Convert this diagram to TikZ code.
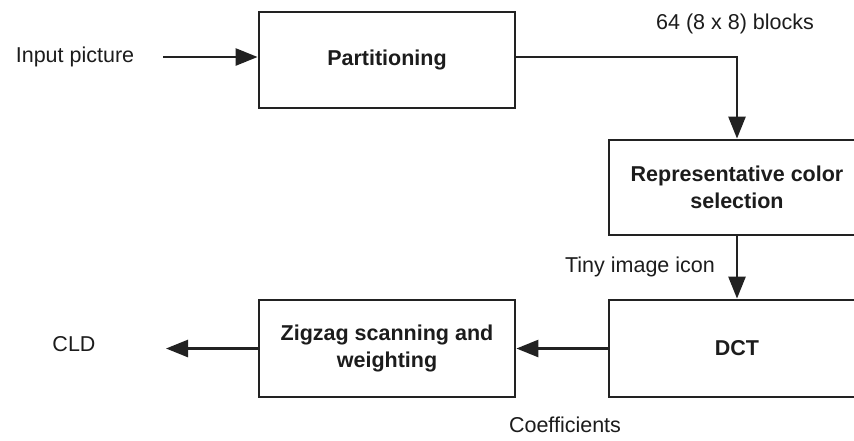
\documentclass[tikz,border=0pt]{standalone}
\usepackage{fontspec}
\setmainfont{Liberation Sans}
\usetikzlibrary{arrows.meta}
\definecolor{ln}{HTML}{222222}
\definecolor{tx}{HTML}{1c1c1c}
\begin{document}
\begin{tikzpicture}[x=1pt,y=-1pt,
  blk/.style={draw=ln,line width=2.8pt,minimum width=256pt,inner sep=0pt,align=center,font=\fontsize{21.5}{27.5}\selectfont\bfseries,text=tx},
  lbl/.style={font=\fontsize{21.5}{27}\selectfont,text=tx,inner sep=0pt},
  conn/.style={draw=ln,line width=2.6pt,-{Triangle[length=22pt,width=17pt]}}]
\useasboundingbox (0,0) rectangle (854,440);
\clip (0,0) rectangle (854,440);
\fill[white] (0,0) rectangle (854,440);
\node[blk,minimum height=96pt] (part) at (387,60) {Partitioning};
\node[blk,minimum height=95pt] (rep) at (737,187.5) {Representative color\\selection};
\node[blk,minimum height=97pt] (dct) at (737,348.5) {DCT};
\node[blk,minimum height=97pt] (zig) at (387,348.5) {Zigzag scanning and\\weighting};
\node[lbl] (inp) at (75,57) {Input picture};
\coordinate (inpend) at (163,57);
\node[lbl] (blocks) at (735,24) {64 (8 x 8) blocks};
\node[lbl] (tiny) at (640,267) {Tiny image icon};
\node[lbl] (coef) at (565,425) {Coefficients};
\node[lbl] (cld) at (74,344) {CLD};
\coordinate (cldend) at (166,345);
\draw[conn] (inpend) -- (part.west |- inpend);
\draw[conn] (part.east |- inpend) -| (rep.north);
\draw[conn] (rep.south) -- (dct.north);
\draw[conn] (dct.west) -- (zig.east);
\draw[conn] (zig.west) -- (cldend |- zig.west);
\end{tikzpicture}
\end{document}
